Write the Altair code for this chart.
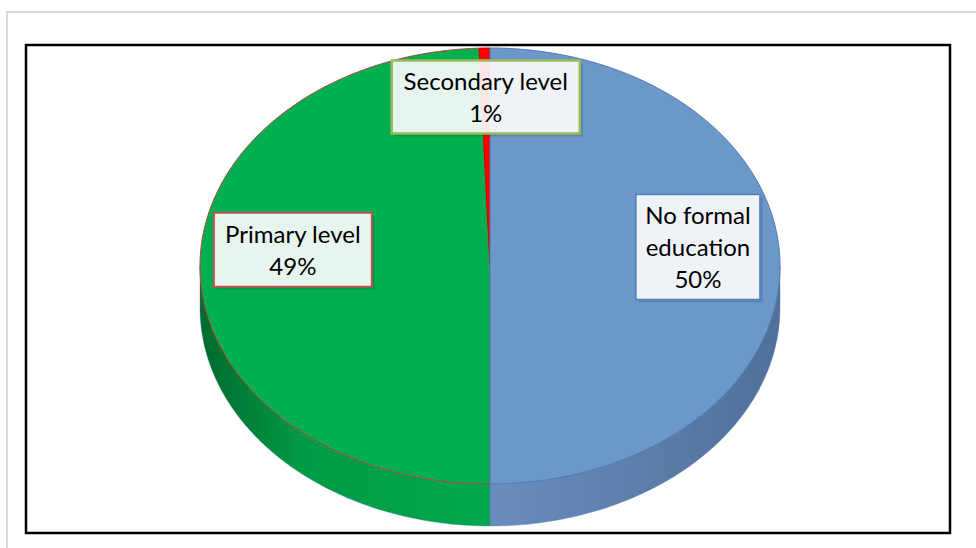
import numpy as np
import pandas as pd
import altair as alt

# ---------------- data ----------------
categories = ["No formal education", "Primary level", "Secondary level"]
shares = [50.0, 49.4, 0.6]
label_names = ["No formal\neducation", "Primary level", "Secondary level"]

# ---------------- style ----------------
face_colors = ["#6C97C9", "#00B050", "#FF0000"]
edge_colors = ["#4D7AB0", "#B8403C", "#D00000"]
rim_gradients = [
    [("#6A8DBE", 0.0), ("#50709A", 1.0)],
    [("#006A2C", 0.0), ("#009A45", 0.35), ("#00A84C", 1.0)],
    [("#B00000", 0.0), ("#E00000", 1.0)],
]
box_strokes = ["#4F81BD", "#C0504D", "#9BBB59"]
box_stroke_w = [1.5, 2.5, 2.5]
box_px = [(124, 105), (158, 74), (188, 73)]
label_radius = [0.717, 0.68, 0.775]
label_lift_px = [19, 19, 0]
FONT = "Lato"
FONT_SIZE = 24
LINE_H = 32

# geometry of the drawing (pixels)
W, H = 924, 488          # plot area (black frame)
CX, CY = 464, 221        # pie centre inside plot area
RX, RY = 290, 218        # ellipse radii of top face
THICK = 42               # pie thickness

x_dom = [-CX / RX, (W - CX) / RX]
y_dom = [-(H - CY) / RY, CY / RY]
xs = alt.Scale(domain=x_dom, nice=False, zero=False)
ys = alt.Scale(domain=y_dom, nice=False, zero=False)
h_u = THICK / RY

# slice angles (degrees, clockwise from 12 o'clock)
tot = sum(shares)
starts, ends = [], []
acc = 0.0
for s in shares:
    starts.append(acc / tot * 360)
    acc += s
    ends.append(acc / tot * 360)


def arc(t0, t1):
    n = max(2, int(np.ceil((t1 - t0) / 0.5)) + 1)
    t = np.radians(np.linspace(t0, t1, n))
    return np.sin(t), np.cos(t)


face_frames, rim_frames = [], []
for i, c in enumerate(categories):
    ax, ay = arc(starts[i], ends[i])
    fx = np.concatenate([[0], ax, [0]])
    fy = np.concatenate([[0], ay, [0]])
    face_frames.append(pd.DataFrame({"cat": c, "ord": np.arange(len(fx)), "x": fx, "y": fy}))
    a, b = max(starts[i], 90), min(ends[i], 270)
    if a < b:
        rx, ry = arc(a, b)
        px = np.concatenate([rx, rx[::-1], rx[:1]])
        py = np.concatenate([ry, ry[::-1] - h_u, ry[:1]])
        rim_frames.append(pd.DataFrame({"cat": c, "ord": np.arange(len(px)), "x": px, "y": py}))
    else:
        rim_frames.append(None)

# labels
lab_rows = []
for i, c in enumerate(categories):
    mid = np.radians((starts[i] + ends[i]) / 2)
    cx = label_radius[i] * np.sin(mid)
    cy = label_radius[i] * np.cos(mid) + label_lift_px[i] / RY
    bw, bh = box_px[i]
    txt = f"{label_names[i]}\n{round(shares[i] / tot * 100)}%"
    nlines = txt.count("\n") + 1
    lab_rows.append({
        "cat": c,
        "cx": cx, "ty": cy + (nlines - 1) * LINE_H / 2 / RY,
        "x0": cx - bw / 2 / RX, "x1": cx + bw / 2 / RX,
        "y0": cy - bh / 2 / RY, "y1": cy + bh / 2 / RY,
        "sx0": cx - bw / 2 / RX + 3 / RX, "sx1": cx + bw / 2 / RX + 3 / RX,
        "sy0": cy - bh / 2 / RY - 3 / RY, "sy1": cy + bh / 2 / RY - 3 / RY,
        "text": txt,
    })
labels = pd.DataFrame(lab_rows)

layers = []

# outer light frame (decoration)
layers.append(
    alt.Chart(pd.DataFrame({"k": [0]})).mark_rect(
        fill="transparent", stroke="#D9D9D9", strokeWidth=2
    ).encode(x=alt.value(-19), x2=alt.value(980), y=alt.value(-33), y2=alt.value(600))
)

# rims
for i, c in enumerate(categories):
    if rim_frames[i] is None:
        continue
    g = alt.Gradient(
        gradient="linear",
        stops=[alt.GradientStop(color=col, offset=o) for col, o in rim_gradients[i]],
        x1=0, x2=1, y1=0, y2=0,
    )
    layers.append(
        alt.Chart(rim_frames[i]).mark_line(fill=g, stroke=edge_colors[0], strokeWidth=0.6, strokeOpacity=0.6)
        .encode(
            x=alt.X("x:Q", scale=xs, axis=None),
            y=alt.Y("y:Q", scale=ys, axis=None),
            order=alt.Order("ord:Q"),
        )
    )

# faces (blue drawn last so its edge lies on the divider)
for i in [1, 2, 0]:
    layers.append(
        alt.Chart(face_frames[i]).mark_line(
            fill=face_colors[i], stroke=edge_colors[i], strokeWidth=1, strokeJoin="round"
        ).encode(
            x=alt.X("x:Q", scale=xs, axis=None),
            y=alt.Y("y:Q", scale=ys, axis=None),
            order=alt.Order("ord:Q"),
        )
    )

# label boxes
layers.append(
    alt.Chart(labels).mark_rect(fill="#000000", opacity=0.12).encode(
        x=alt.X("sx0:Q", scale=xs, axis=None), x2="sx1:Q",
        y=alt.Y("sy0:Q", scale=ys, axis=None), y2="sy1:Q",
    )
)
layers.append(
    alt.Chart(labels).mark_rect(fill="#FFFFFF", fillOpacity=0.9).encode(
        x=alt.X("x0:Q", scale=xs, axis=None), x2="x1:Q",
        y=alt.Y("y0:Q", scale=ys, axis=None), y2="y1:Q",
        stroke=alt.Stroke("cat:N", scale=alt.Scale(domain=categories, range=box_strokes), legend=None),
        strokeWidth=alt.StrokeWidth("cat:N", scale=alt.Scale(domain=categories, range=box_stroke_w), legend=None),
    )
)
layers.append(
    alt.Chart(labels).mark_text(
        font=FONT, fontSize=FONT_SIZE, lineHeight=LINE_H, lineBreak="\n", color="#000000",
        align="center", baseline="middle", dy=2,
    ).encode(
        x=alt.X("cx:Q", scale=xs, axis=None),
        y=alt.Y("ty:Q", scale=ys, axis=None),
        text="text:N",
    )
)

chart = alt.layer(*layers).properties(
    width=W, height=H,
    padding={"left": 26, "top": 45, "right": 26, "bottom": 15},
    autosize=alt.AutoSizeParams(type="none"),
    background="#FFFFFF",
).configure_view(stroke="#000000", strokeWidth=2.5)

chart.save("out.html", embed_options={"renderer": "svg", "actions": False})
